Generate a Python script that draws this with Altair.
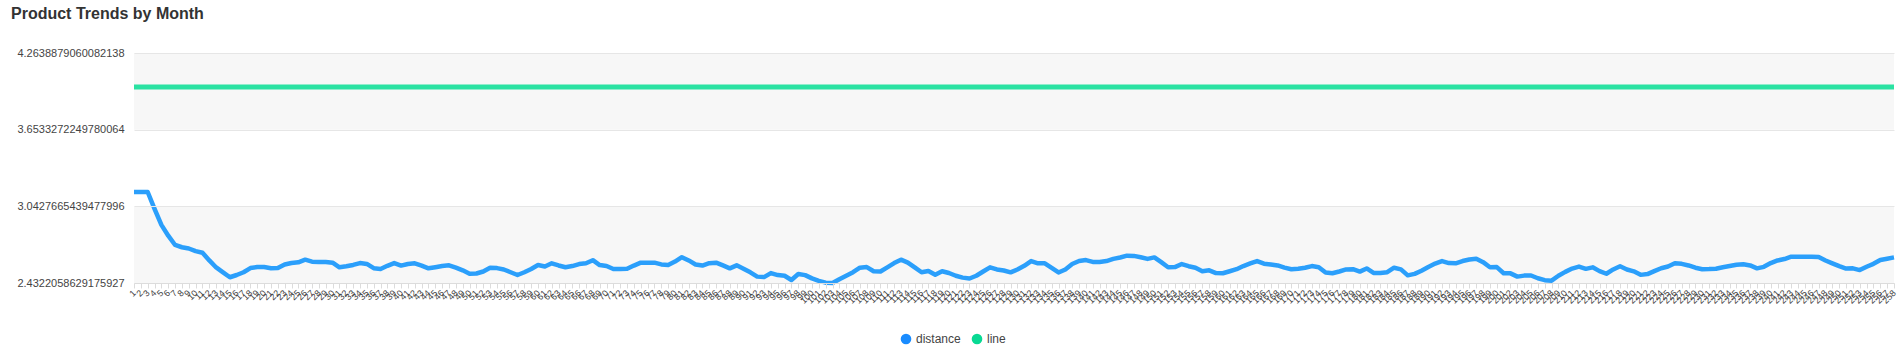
import altair as alt
import pandas as pd

# ---------------- data ----------------
months = list(range(1, 259))

distance = [
    3.157, 3.157, 3.157, 3.022, 2.895, 2.809, 2.735, 2.717, 2.707, 2.686,
    2.673, 2.612, 2.556, 2.517, 2.478, 2.496, 2.518, 2.551, 2.560, 2.559,
    2.550, 2.552, 2.580, 2.592, 2.597, 2.618, 2.602, 2.599, 2.599, 2.594,
    2.557, 2.565, 2.576, 2.591, 2.584, 2.550, 2.544, 2.569, 2.591, 2.571,
    2.584, 2.589, 2.571, 2.549, 2.558, 2.568, 2.573, 2.555, 2.533, 2.506,
    2.508, 2.524, 2.554, 2.551, 2.540, 2.518, 2.496, 2.518, 2.544, 2.575,
    2.564, 2.589, 2.572, 2.558, 2.567, 2.583, 2.589, 2.614, 2.575, 2.568,
    2.544, 2.544, 2.545, 2.571, 2.594, 2.594, 2.594, 2.580, 2.576, 2.603,
    2.638, 2.612, 2.580, 2.571, 2.590, 2.594, 2.572, 2.549, 2.573, 2.546,
    2.517, 2.483, 2.479, 2.511, 2.495, 2.490, 2.456, 2.504, 2.495, 2.469,
    2.449, 2.435, 2.4322058629175927, 2.462, 2.490, 2.518, 2.554, 2.559, 2.526, 2.524,
    2.557, 2.591, 2.618, 2.595, 2.556, 2.518, 2.528, 2.498, 2.526, 2.512,
    2.490, 2.475, 2.468, 2.490, 2.524, 2.557, 2.540, 2.532, 2.517, 2.540,
    2.569, 2.607, 2.589, 2.589, 2.553, 2.516, 2.540, 2.583, 2.607, 2.615,
    2.600, 2.600, 2.607, 2.624, 2.635, 2.650, 2.648, 2.637, 2.624, 2.636,
    2.598, 2.558, 2.559, 2.583, 2.566, 2.554, 2.526, 2.533, 2.511, 2.510,
    2.526, 2.542, 2.567, 2.588, 2.607, 2.586, 2.580, 2.572, 2.555, 2.542,
    2.546, 2.554, 2.567, 2.558, 2.515, 2.510, 2.524, 2.540, 2.542, 2.523,
    2.548, 2.512, 2.512, 2.518, 2.554, 2.541, 2.493, 2.505, 2.530, 2.560,
    2.587, 2.607, 2.591, 2.589, 2.607, 2.619, 2.626, 2.598, 2.558, 2.559,
    2.510, 2.509, 2.483, 2.491, 2.492, 2.470, 2.455, 2.451, 2.490, 2.521,
    2.547, 2.563, 2.545, 2.557, 2.527, 2.506, 2.540, 2.565, 2.540, 2.525,
    2.497, 2.503, 2.527, 2.550, 2.564, 2.589, 2.585, 2.572, 2.554, 2.542,
    2.543, 2.546, 2.558, 2.567, 2.577, 2.581, 2.572, 2.549, 2.561, 2.591,
    2.612, 2.623, 2.642, 2.642, 2.642, 2.642, 2.639, 2.611, 2.588, 2.566,
    2.547, 2.549, 2.535, 2.562, 2.585, 2.616, 2.626, 2.636,
]

line = [3.993] * 258

series_names = ["distance", "line"]
line_colors = ["#2b9ffb", "#2ae2a2"]
legend_colors = ["#1a8cff", "#08d993"]

y_ticks = [2.4322058629175927, 3.0427665439477996, 3.6533272249780064, 4.2638879060082138]
y_tick_labels = ["2.4322058629175927", "3.0427665439477996", "3.6533272249780064", "4.2638879060082138"]

band_lo = [y_ticks[0], y_ticks[2]]
band_hi = [y_ticks[1], y_ticks[3]]

# ---------------- tables ----------------
rows = []
for m, v in zip(months, distance):
    rows.append({"month": m, "series": "distance", "value": v})
for m, v in zip(months, line):
    rows.append({"month": m, "series": "line", "value": v})
df = pd.DataFrame(rows)
bands = pd.DataFrame({"lo": band_lo, "hi": band_hi})

W, H = 1760, 230
yscale = alt.Scale(domain=[y_ticks[0], y_ticks[-1]], nice=False, zero=False)
xscale = alt.Scale(type="point", padding=0)

label_expr = (
    f"datum.value > 4 ? '{y_tick_labels[3]}' : datum.value > 3.5 ? '{y_tick_labels[2]}' : "
    f"datum.value > 3 ? '{y_tick_labels[1]}' : '{y_tick_labels[0]}'"
)

y_axis = alt.Axis(values=y_ticks, labelExpr=label_expr, title=None,
                  domain=False, ticks=False, grid=True, gridColor="#e6e6e6",
                  labelFontSize=11, labelColor="#444", labelPadding=10,
                  labelFont="Liberation Sans", zindex=1)

x_axis = alt.Axis(title=None, labelAngle=-45, labelAlign="right",
                  labelBaseline="middle", labelFontSize=9, labelColor="#444",
                  labelFont="Liberation Sans", labelPadding=3,
                  domainColor="#dcdcdc", tickColor="#dcdcdc", tickSize=5,
                  labelOverlap=False, grid=False, zindex=1)

band_layer = alt.Chart(bands).mark_rect(color="#f7f7f7").encode(
    x=alt.value(0),
    x2=alt.value(W),
    y=alt.Y("lo:Q", scale=yscale, axis=y_axis),
    y2="hi:Q",
)

lines = alt.Chart(df).mark_line(strokeJoin="round").encode(
    x=alt.X("month:O", scale=xscale, axis=x_axis),
    y=alt.Y("value:Q", scale=yscale, axis=y_axis),
    color=alt.Color("series:N", scale=alt.Scale(domain=series_names, range=line_colors), legend=None),
    strokeWidth=alt.StrokeWidth("series:N", scale=alt.Scale(domain=series_names, range=[4.5, 5]), legend=None),
)

legend_layer = alt.Chart(df).mark_circle(size=0, opacity=1).encode(
    x=alt.X("month:O", scale=xscale, axis=x_axis),
    y=alt.Y("value:Q", scale=yscale, axis=y_axis),
    fill=alt.Fill("series:N", scale=alt.Scale(domain=series_names, range=legend_colors),
                  legend=alt.Legend(orient="none", legendX=766, legendY=280, direction="horizontal",
                                    title=None, symbolType="circle", symbolSize=113,
                                    labelFontSize=12, labelColor="#444", labelFont="Liberation Sans",
                                    columnPadding=10, labelOffset=4, padding=0, symbolStrokeWidth=0)),
)

chart = alt.layer(band_layer, lines, legend_layer).resolve_scale(
    color="independent", fill="independent"
).properties(
    width=W, height=H,
    title=alt.TitleParams("Product Trends by Month", anchor="start", frame="group", dx=-123, dy=-21,
                          fontSize=16, fontWeight="bold", color="#333", font="Liberation Sans"),
    autosize=alt.AutoSizeParams(type="none"),
    padding={"left": 134, "top": 53, "right": 10, "bottom": 67},
).configure_view(stroke=None)

chart.save("out.html", embed_options={"renderer": "svg", "actions": False})
